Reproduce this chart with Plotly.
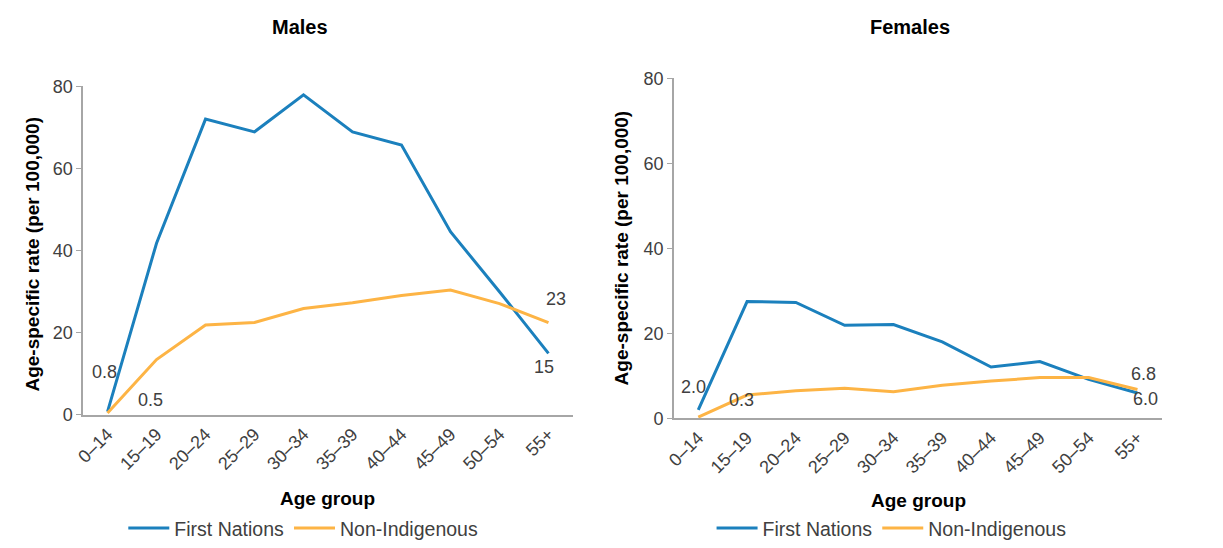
import plotly.graph_objects as go

age_groups = ["0–14", "15–19", "20–24", "25–29", "30–34", "35–39", "40–44", "45–49", "50–54", "55+"]

males_first_nations = [0.8, 41.8, 72.0, 68.9, 77.9, 68.9, 65.7, 44.6, 30.0, 15.0]
males_non_indigenous = [0.5, 13.5, 21.9, 22.5, 25.9, 27.3, 29.1, 30.4, 27.1, 22.5]

females_first_nations = [2.0, 27.5, 27.3, 21.9, 22.1, 18.0, 12.1, 13.4, 9.2, 6.0]
females_non_indigenous = [0.3, 5.5, 6.5, 7.1, 6.3, 7.8, 8.8, 9.6, 9.6, 6.8]

BLUE = "#1b80bd"
ORANGE = "#fdb445"
FONT = "Liberation Sans, Arial, sans-serif"
TXT = "#404040"

fig = go.Figure()

# Males panel
fig.add_trace(go.Scatter(x=age_groups, y=males_first_nations, mode="lines", name="First Nations",
                         line=dict(color=BLUE, width=3), xaxis="x", yaxis="y", legend="legend"))
fig.add_trace(go.Scatter(x=age_groups, y=males_non_indigenous, mode="lines", name="Non-Indigenous",
                         line=dict(color=ORANGE, width=3), xaxis="x", yaxis="y", legend="legend"))
# Females panel
fig.add_trace(go.Scatter(x=age_groups, y=females_first_nations, mode="lines", name="First Nations",
                         line=dict(color=BLUE, width=3), xaxis="x2", yaxis="y2", legend="legend2"))
fig.add_trace(go.Scatter(x=age_groups, y=females_non_indigenous, mode="lines", name="Non-Indigenous",
                         line=dict(color=ORANGE, width=3), xaxis="x2", yaxis="y2", legend="legend2"))

xax = dict(type="category", range=[-0.5, 9.5], tickangle=-45, showgrid=False, showline=True,
           linecolor="#a6a6a6", linewidth=1.5, ticks="", zeroline=False, automargin=False,
           tickfont=dict(family=FONT, size=18, color=TXT))
yax = dict(range=[0, 80], dtick=20, showgrid=False, showline=True, linecolor="#a6a6a6", linewidth=1.5,
           ticks="outside", ticklen=5, tickcolor="#a6a6a6", zeroline=False, automargin=False,
           tickfont=dict(family=FONT, size=18, color=TXT))

leg = dict(orientation="h", yanchor="middle", xanchor="center",
           font=dict(family=FONT, size=19.5, color=TXT), itemwidth=41, tracegroupgap=0)

fig.update_layout(
    width=1223, height=548,
    margin=dict(l=0, r=0, t=0, b=0),
    paper_bgcolor="white", plot_bgcolor="white",
    font=dict(family=FONT, color=TXT),
    xaxis=dict(xax, domain=[0.0679, 0.4685], anchor="y"),
    yaxis=dict(yax, domain=[0.2272, 0.8394], anchor="x"),
    xaxis2=dict(xax, domain=[0.551, 0.950], anchor="y2"),
    yaxis2=dict(yax, domain=[0.2208, 0.854], anchor="x2"),
    legend=dict(leg, x=0.248, y=0.016),
    legend2=dict(leg, x=0.729, y=0.016),
)

title_font = dict(family=FONT, size=20, color="#000")
axis_font = dict(family=FONT, size=19, color="#000")
pap = dict(xref="paper", yref="paper", showarrow=False, xanchor="center", yanchor="middle")
anns = [
    dict(pap, text="<b>Males</b>", x=0.245, y=0.949, font=title_font),
    dict(pap, text="<b>Females</b>", x=0.744, y=0.949, font=title_font),
    dict(pap, text="<b>Age group</b>", x=0.268, y=0.072, font=axis_font),
    dict(pap, text="<b>Age-specific rate (per 100,000)</b>", x=0.027, y=0.526, textangle=-90, font=axis_font),
    dict(pap, text="<b>Age group</b>", x=0.751, y=0.068, font=axis_font),
    dict(pap, text="<b>Age-specific rate (per 100,000)</b>", x=0.508, y=0.538, textangle=-90, font=axis_font),
]

lab = dict(showarrow=False, font=dict(family=FONT, size=18, color=TXT))
# Males data labels
anns += [
    dict(lab, text="0.8", x=age_groups[0], y=males_first_nations[0], xref="x", yref="y", xshift=-3, yshift=40),
    dict(lab, text="0.5", x=age_groups[1], y=males_non_indigenous[0], xref="x", yref="y", xshift=-6, yshift=13),
    dict(lab, text="23", x=age_groups[9], y=males_non_indigenous[9], xref="x", yref="y", xshift=8, yshift=24),
    dict(lab, text="15", x=age_groups[9], y=males_first_nations[9], xref="x", yref="y", xshift=-4, yshift=-14),
]
# Females data labels
anns += [
    dict(lab, text="2.0", x=age_groups[0], y=females_first_nations[0], xref="x2", yref="y2", xshift=-5, yshift=23),
    dict(lab, text="0.3", x=age_groups[1], y=females_non_indigenous[0], xref="x2", yref="y2", xshift=-6, yshift=17),
    dict(lab, text="6.8", x=age_groups[9], y=females_non_indigenous[9], xref="x2", yref="y2", xshift=6, yshift=16),
    dict(lab, text="6.0", x=age_groups[9], y=females_first_nations[9], xref="x2", yref="y2", xshift=8, yshift=-6),
]
fig.update_layout(annotations=anns)

# drop the browser's default body margin so the figure sits at the page origin
fig.write_html("out.html", config={"displayModeBar": False},
               post_script="document.body.style.margin='0';")
